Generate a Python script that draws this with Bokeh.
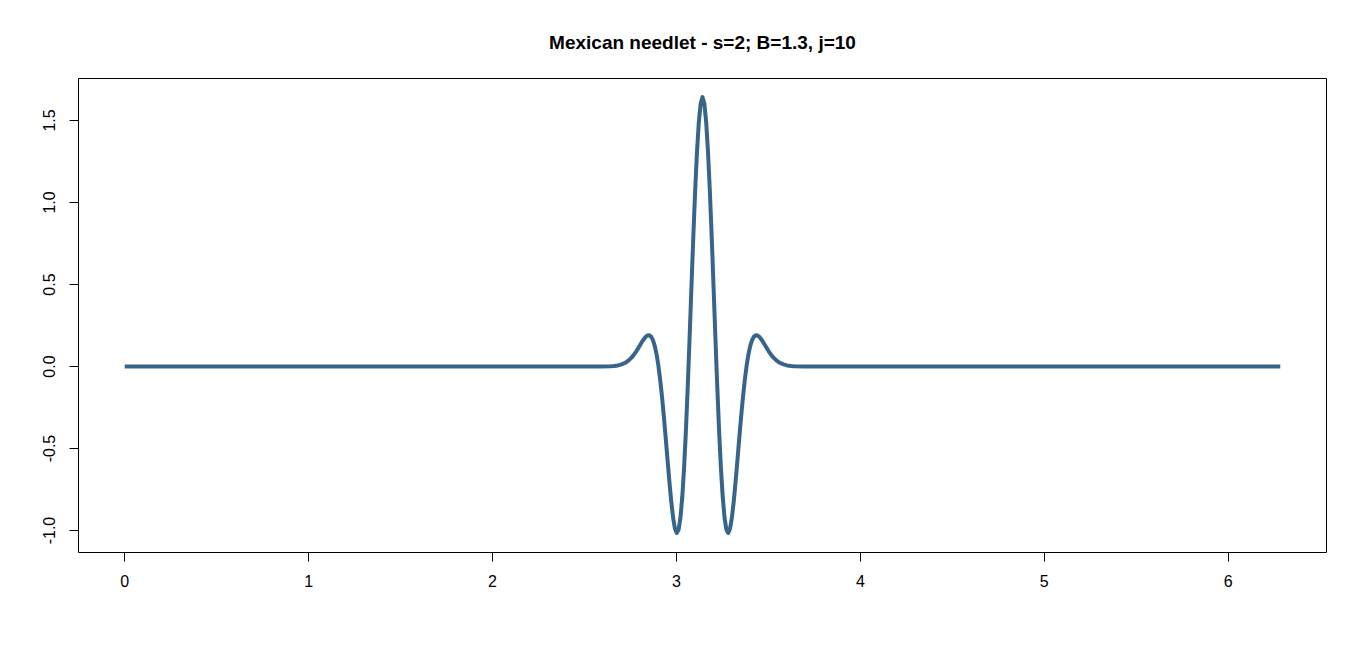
from bokeh.plotting import figure
from bokeh.models import Range1d, FixedTicker, PrintfTickFormatter
from bokeh.embed import file_html
from bokeh.resources import INLINE

title_text = "Mexican needlet - s=2; B=1.3, j=10"
x_ticks = [0, 1, 2, 3, 4, 5, 6]
y_ticks = [-1.0, -0.5, 0.0, 0.5, 1.0, 1.5]

theta = [
    0.0,
    2.5416, 2.5916, 2.6416, 2.6616, 2.6816, 2.7016, 2.7216, 2.7416, 2.7516, 2.7616,
    2.7716, 2.7816, 2.7916, 2.8016, 2.8116, 2.8216, 2.8316, 2.8416, 2.8516, 2.8616,
    2.8716, 2.8816, 2.8916, 2.9016, 2.9116, 2.9216, 2.9316, 2.9416, 2.9516, 2.9616,
    2.9716, 2.9816, 2.9916, 3.0016, 3.0116, 3.0216, 3.0316, 3.0416, 3.0516, 3.0616,
    3.0716, 3.0816, 3.0916, 3.1016, 3.1116, 3.1216, 3.1316, 3.1416,
    3.1516, 3.1616, 3.1716, 3.1816, 3.1916, 3.2016, 3.2116, 3.2216, 3.2316, 3.2416,
    3.2516, 3.2616, 3.2716, 3.2816, 3.2916, 3.3016, 3.3116, 3.3216, 3.3316, 3.3416,
    3.3516, 3.3616, 3.3716, 3.3816, 3.3916, 3.4016, 3.4116, 3.4216, 3.4316, 3.4416,
    3.4516, 3.4616, 3.4716, 3.4816, 3.4916, 3.5016, 3.5116, 3.5216, 3.5316, 3.5416,
    3.5616, 3.5816, 3.6016, 3.6216, 3.6416, 3.6916, 3.7416,
    6.2832,
]

needlet = [
    0.0,
    0.0000, 0.0002, 0.0016, 0.0033, 0.0066, 0.0126, 0.0227, 0.0387, 0.0494, 0.0620,
    0.0766, 0.0930, 0.1109, 0.1296, 0.1482, 0.1653, 0.1795, 0.1887, 0.1906, 0.1826,
    0.1623, 0.1273, 0.0757, 0.0061, -0.0816, -0.1865, -0.3060, -0.4359, -0.5702, -0.7017,
    -0.8213, -0.9198, -0.9874, -1.0152, -0.9957, -0.9232, -0.7957, -0.6144, -0.3845, -0.1151,
    0.1813, 0.4893, 0.7915, 1.0700, 1.3077, 1.4896, 1.6036, 1.6425,
    1.6036, 1.4896, 1.3077, 1.0700, 0.7915, 0.4893, 0.1813, -0.1151, -0.3845, -0.6144,
    -0.7957, -0.9232, -0.9957, -1.0152, -0.9874, -0.9198, -0.8213, -0.7017, -0.5702, -0.4359,
    -0.3060, -0.1865, -0.0816, 0.0061, 0.0757, 0.1273, 0.1623, 0.1826, 0.1906, 0.1887,
    0.1795, 0.1653, 0.1482, 0.1296, 0.1109, 0.0930, 0.0766, 0.0620, 0.0494, 0.0387,
    0.0227, 0.0126, 0.0066, 0.0033, 0.0016, 0.0002, 0.0000,
    0.0,
]

FONT = "Liberation Sans"

p = figure(
    width=1350, height=634,
    output_backend="svg", toolbar_location=None,
    x_range=Range1d(-0.2513, 6.5345), y_range=Range1d(-1.134, 1.756),
    min_border_left=78, min_border_top=78, min_border_right=24, min_border_bottom=82,
)

p.line(theta, needlet, line_color="#36648B", line_width=4, line_cap="butt", line_join="round")

p.title.text = title_text
p.title.align = "center"
p.title.text_font = FONT
p.title.text_font_size = "19px"
p.title.text_font_style = "bold"
p.title.text_color = "black"
p.title.standoff = 51

p.grid.visible = False
p.outline_line_color = "black"
p.outline_line_width = 1
p.background_fill_color = "white"
p.border_fill_color = "white"

p.xaxis.ticker = FixedTicker(ticks=x_ticks)
p.xaxis.formatter = PrintfTickFormatter(format="%d")
p.yaxis.ticker = FixedTicker(ticks=y_ticks)
p.yaxis.formatter = PrintfTickFormatter(format="%.1f")
p.yaxis.major_label_orientation = "vertical"

for ax in (p.xaxis[0], p.yaxis[0]):
    ax.axis_line_color = None
    ax.major_tick_line_color = "black"
    ax.major_tick_line_width = 1
    ax.major_tick_out = 9
    ax.major_tick_in = 0
    ax.minor_tick_line_color = None
    ax.major_label_text_font = FONT
    ax.major_label_text_font_size = "16px"
    ax.major_label_text_color = "black"

p.xaxis.major_label_standoff = 13
p.yaxis.major_label_standoff = 14

open("out.html", "w").write(file_html(p, INLINE))
